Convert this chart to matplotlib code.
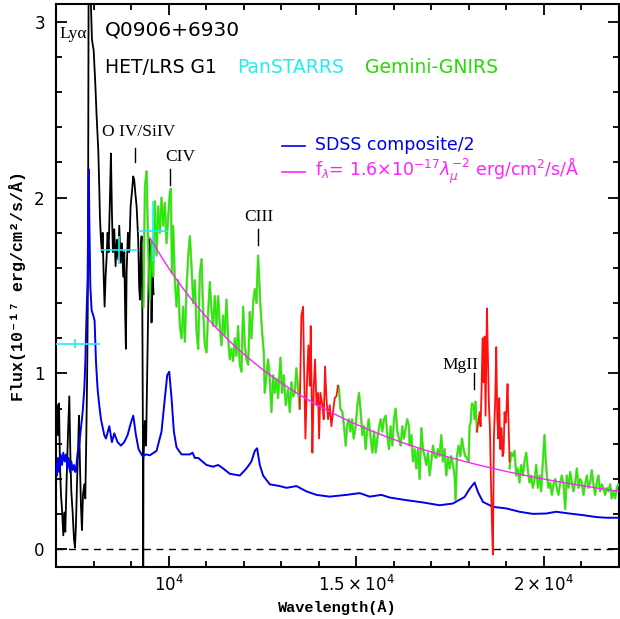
import matplotlib
matplotlib.use("Agg")
import matplotlib.pyplot as plt
import numpy as np
from matplotlib.ticker import FixedLocator, MultipleLocator

# HET/LRS G1 spectrum (Angstrom, 1e-17 erg/cm2/s/A)
black_wave = [7027, 7053, 7080, 7106, 7133, 7160, 7195, 7222, 7248, 7284, 7319, 7355, 7382, 7408,
              7444, 7479, 7506, 7532, 7559, 7586, 7612, 7639, 7665, 7692, 7719, 7754, 7781, 7807,
              7834, 7852, 7870, 7896, 7923, 7958, 7985, 8003, 8047, 8083, 8127, 8153, 8171, 8198,
              8224, 8242, 8269, 8295, 8322, 8349, 8375, 8402, 8437, 8464, 8491, 8517, 8553, 8588,
              8624, 8659, 8686, 8721, 8757, 8792, 8819, 8846, 8863, 8881, 8917, 8952, 8988, 9023,
              9058, 9085, 9112, 9148, 9191, 9215, 9236, 9262, 9281, 9300, 9318, 9324, 9330, 9369,
              9400, 9431, 9458, 9484, 9520, 9546, 9573, 9600]
black_flux = [0.82, 0.65, 0.83, 0.48, 0.31, 0.23, 0.08, 0.21, 0.10, 0.40, 0.65, 0.87, 0.55, 0.33,
              0.21, 0.06, 0.01, 0.14, 0.37, 0.55, 0.76, 0.48, 0.25, 0.11, 0.31, 0.37, 0.29, 0.63,
              1.06, 1.54, 3.30, 3.50, 3.15, 2.90, 2.86, 2.84, 2.65, 2.46, 2.27, 2.06, 1.89, 1.76,
              1.69, 1.80, 1.57, 1.38, 1.55, 1.66, 1.80, 1.69, 1.99, 2.25, 1.91, 1.69, 1.82, 1.61,
              1.76, 1.65, 1.84, 1.63, 1.74, 1.55, 1.69, 1.31, 1.14, 1.57, 1.80, 1.69, 1.95, 2.03,
              2.12, 2.10, 2.03, 1.95, 1.76, 1.50, 1.42, 1.72, 1.78, 1.38, 0.57, -0.60, 0.50, 0.73,
              0.59, 1.01, 1.38, 1.76, 1.70, 1.29, 1.57, 1.45]

# SDSS composite / 2
blue_wave = [7000, 7027, 7053, 7089, 7124, 7160, 7195, 7231, 7266, 7302, 7337, 7373, 7408, 7444,
             7479, 7515, 7532, 7577, 7621, 7665, 7710, 7754, 7781, 7816, 7843, 7861, 7874, 7887,
             7914, 7949, 7994, 8029, 8065, 8109, 8153, 8198, 8287, 8331, 8420, 8491, 8553, 8641,
             8730, 8819, 8908, 8996, 9059, 9130, 9200, 9307, 9400, 9502, 9679, 9812, 9901, 9963,
             10017, 10079, 10141, 10212, 10345, 10567, 10638, 10700, 10789, 11010, 11188, 11321,
             11454, 11631, 11898, 12075, 12208, 12297, 12359, 12430, 12519, 12696, 12962, 13140,
             13407, 13673, 13939, 14294, 14738, 15093, 15359, 15669, 15891, 16335, 16778, 17222,
             17577, 17887, 18021, 18154, 18242, 18376, 18642, 18997, 19352, 19706, 20062, 20327,
             20682, 21037, 21392, 21659, 21969, 22000]
blue_flux = [0.48, 0.42, 0.52, 0.44, 0.54, 0.48, 0.55, 0.50, 0.54, 0.46, 0.52, 0.44, 0.50, 0.45,
             0.48, 0.44, 0.45, 0.55, 0.60, 0.69, 0.78, 0.91, 1.06, 1.35, 1.54, 1.95, 2.16, 1.90,
             1.50, 1.36, 1.33, 1.30, 1.07, 0.91, 0.82, 0.74, 0.65, 0.63, 0.70, 0.61, 0.66, 0.61,
             0.59, 0.61, 0.65, 0.72, 0.76, 0.65, 0.57, 0.53, 0.54, 0.535, 0.56, 0.67, 0.86, 0.99,
             1.01, 0.86, 0.67, 0.58, 0.54, 0.54, 0.55, 0.52, 0.52, 0.48, 0.47, 0.48,
             0.46, 0.43, 0.42, 0.46, 0.50, 0.56, 0.575, 0.48, 0.42, 0.37, 0.36, 0.35,
             0.36, 0.33, 0.31, 0.30, 0.31, 0.32, 0.30, 0.31, 0.295, 0.28, 0.267, 0.251,
             0.261, 0.298, 0.344, 0.38, 0.327, 0.27, 0.242, 0.233, 0.214, 0.202, 0.204, 0.214,
             0.204, 0.195, 0.184, 0.18, 0.18, 0.178]

# Gemini-GNIRS, good parts (green) and telluric parts (red)
green1_wave = [9330, 9369, 9414, 9458, 9502, 9546, 9590, 9635, 9679, 9723, 9768, 9812, 9856, 9901,
               9945, 9990, 10034, 10061, 10090, 10123, 10167, 10211, 10256, 10300, 10345, 10389,
               10434, 10478, 10523, 10567, 10611, 10656, 10700, 10745, 10789, 10833, 10878, 10922,
               10966, 11011, 11055, 11099, 11143, 11188, 11232, 11276, 11321, 11365, 11409, 11454,
               11498, 11543, 11587, 11631, 11676, 11720, 11764, 11809, 11853, 11898, 11942, 11986,
               12031, 12075, 12120, 12164, 12208, 12253, 12297, 12341, 12385, 12448, 12501, 12537,
               12563, 12608, 12652, 12696, 12741, 12785, 12829, 12874, 12918, 12980, 13025, 13069,
               13122, 13184, 13229, 13273, 13317, 13362, 13406, 13451, 13495]
green1_flux = [1.38, 2.06, 2.15, 1.70, 1.42, 1.75, 1.55, 1.98, 1.67, 1.95, 1.80, 2.00, 1.84, 1.97,
               1.74, 1.89, 2.03, 2.05, 1.57, 1.84, 1.53, 1.38, 1.53, 1.27, 1.20, 1.38,
               1.18, 1.48, 1.67, 1.78, 1.61, 1.40, 1.53, 1.24, 1.14, 1.57, 1.65, 1.35,
               1.16, 1.12, 1.35, 1.52, 1.36, 1.27, 1.44, 1.27, 1.44, 1.27, 1.16, 1.33,
               1.22, 1.42, 1.20, 1.08, 1.14, 1.07, 1.20, 1.10, 1.27, 1.05, 1.01, 1.38,
               1.16, 1.08, 1.05, 1.35, 1.20, 1.40, 1.48, 1.40, 1.67, 1.38, 1.21, 1.12,
               0.89, 0.99, 1.08, 0.97, 0.78, 0.99, 0.89, 0.97, 0.86, 1.09, 0.89, 0.99,
               0.82, 0.91, 0.78, 0.95, 0.87, 0.89, 1.03, 0.91, 0.80]
red1_wave = [13495, 13539, 13584, 13610, 13646, 13690, 13726, 13761, 13788, 13814, 13832, 13868,
             13903, 13939, 13983, 14010, 14045, 14098, 14134, 14169, 14205, 14249, 14294, 14338,
             14382, 14427, 14471, 14515]
red1_flux = [0.80, 1.33, 1.38, 1.03, 0.63, 0.97, 1.16, 0.93, 1.27, 0.84, 0.55, 0.93,
             1.08, 0.82, 0.89, 0.63, 0.89, 0.82, 0.74, 1.04, 0.86, 0.74, 0.82, 0.70,
             0.78, 0.86, 0.87, 0.93]
green2_wave = [14515, 14542, 14577, 14631, 14675, 14719, 14755, 14799, 14844, 14888, 14932, 14986,
               15030, 15074, 15119, 15163, 15207, 15252, 15287, 15332, 15376, 15429, 15474, 15518,
               15562, 15607, 15651, 15695, 15740, 15784, 15829, 15873, 15917, 15962, 16006, 16050,
               16095, 16139, 16184, 16228, 16272, 16317, 16361, 16405, 16423, 16468, 16512, 16556,
               16601, 16645, 16689, 16734, 16778, 16822, 16867, 16911, 16956, 17000, 17044, 17089,
               17133, 17177, 17222, 17266, 17310, 17355, 17399, 17444, 17488, 17532, 17577, 17621,
               17648, 17683, 17727, 17772, 17816, 17861, 17905, 17949, 17994, 18020, 18047, 18082,
               18127, 18153, 18180, 18216]
green2_flux = [0.93, 0.91, 0.80, 0.78, 0.70, 0.59, 0.70, 0.74, 0.67, 0.74, 0.63, 0.70,
               0.82, 0.89, 0.78, 0.65, 0.70, 0.57, 0.67, 0.74, 0.65, 0.55, 0.67, 0.55,
               0.63, 0.69, 0.74, 0.67, 0.74, 0.76, 0.65, 0.57, 0.70, 0.59, 0.74, 0.80,
               0.67, 0.63, 0.59, 0.70, 0.63, 0.69, 0.74, 0.70, 0.59, 0.65, 0.50, 0.57,
               0.46, 0.57, 0.40, 0.69, 0.57, 0.53, 0.48, 0.55, 0.42, 0.50, 0.59, 0.53,
               0.52, 0.57, 0.53, 0.65, 0.50, 0.57, 0.42, 0.52, 0.46, 0.53, 0.48, 0.42,
               0.28, 0.53, 0.59, 0.53, 0.63, 0.57, 0.53, 0.52, 0.50, 0.70, 0.72, 0.83,
               0.82, 0.74, 0.84, 0.67]
red2_wave = [18216, 18251, 18287, 18313, 18340, 18366, 18393, 18420, 18446, 18482, 18508, 18535,
             18562, 18588, 18615, 18641, 18668, 18704, 18730, 18757, 18784, 18810, 18837, 18872,
             18899, 18926, 18952, 18979, 19005, 19032, 19058, 19085]
red2_flux = [0.67, 0.72, 0.78, 0.70, 0.91, 1.20, 0.95, 1.21, 0.76, 1.37, 1.10, 0.82,
             0.69, 0.40, 0.16, -0.03, 0.63, 0.86, 1.15, 0.76, 0.63, 0.86, 0.57, 0.69,
             0.53, 0.55, 0.78, 0.72, 0.80, 0.94, 0.72, 0.50]
green3_wave = [19085, 19130, 19174, 19218, 19263, 19307, 19351, 19396, 19440, 19484, 19529, 19573,
               19617, 19662, 19706, 19751, 19795, 19839, 19884, 19928, 19972, 20017, 20043, 20079,
               20123, 20168, 20212, 20256, 20301, 20345, 20390, 20434, 20478, 20523, 20567, 20611,
               20656, 20700, 20744, 20789, 20833, 20877, 20922, 20966, 21011, 21055, 21099, 21144,
               21188, 21232, 21277, 21321, 21365, 21410, 21454, 21498, 21543, 21587, 21632, 21676,
               21720, 21765, 21809, 21853, 21898, 21942, 21987]
green3_flux = [0.46, 0.55, 0.53, 0.56, 0.42, 0.46, 0.38, 0.48, 0.42, 0.50, 0.55, 0.45,
               0.38, 0.42, 0.35, 0.40, 0.48, 0.35, 0.42, 0.33, 0.50, 0.65, 0.53, 0.42,
               0.35, 0.38, 0.31, 0.37, 0.40, 0.35, 0.31, 0.38, 0.42, 0.37, 0.23, 0.42,
               0.35, 0.44, 0.38, 0.33, 0.38, 0.46, 0.35, 0.40, 0.38, 0.31, 0.37, 0.42,
               0.35, 0.38, 0.45, 0.37, 0.31, 0.38, 0.42, 0.33, 0.37, 0.35, 0.31, 0.35,
               0.33, 0.37, 0.29, 0.33, 0.29, 0.35, 0.37]

# PanSTARRS photometry: centre, filter half width, flux, error
ps_wave = [7514, 8680, 9590]
ps_halfwidth = [660, 500, 400]
ps_flux = [1.17, 1.70, 1.81]
ps_err = [0.025, 0.08, 0.17]

# power-law model f = A * lambda_um^-2
pl_amp = 1.6
pl_start, pl_end = 9500, 22000

# emission line labels: text, x, y, tick x, tick y0, tick y1
line_labels = ["Ly\u03b1", "O IV/SiIV", "CIV", "CIII", "MgII"]
label_x = [7080, 8225, 9902, 12005, 17302]
label_y = [2.93, 2.37, 2.23, 1.89, 1.05]
tick_x = [None, 9103, 10035, 12377, 18127]
tick_y0 = [None, 2.20, 2.07, 1.73, 0.91]
tick_y1 = [None, 2.28, 2.16, 1.82, 1.00]

xticks = [10000, 15000, 20000]
xtick_labels = [r"$10^4$", r"$1.5\times10^4$", r"$2\times10^4$"]


def main() -> None:
    fig = plt.figure(figsize=(6.2, 6.19), dpi=100)
    ax = fig.add_axes([0.0903, 0.084, 0.908, 0.9095])

    ax.axhline(0, color="black", lw=1.0, ls=(0, (5, 4)), zorder=1)

    ax.plot(black_wave, black_flux, color="black", lw=1.3, zorder=2)
    ax.plot(blue_wave, blue_flux, color="#0000ee", lw=1.4, zorder=3)

    for w, f in [(green1_wave, green1_flux), (green2_wave, green2_flux), (green3_wave, green3_flux)]:
        ax.plot(w, f, color="#7f9f40", lw=1.8, alpha=0.6, zorder=4)
        ax.plot(w, f, color="#1eee00", lw=1.1, zorder=5)
    for w, f in [(red1_wave, red1_flux), (red2_wave, red2_flux)]:
        ax.plot(w, f, color="#ff1010", lw=1.3, zorder=5)

    ax.errorbar(ps_wave, ps_flux, xerr=ps_halfwidth, yerr=ps_err, fmt="none",
                ecolor="#22eeee", elinewidth=1.2, capsize=0, zorder=6)

    pl_wave = np.linspace(pl_start, pl_end, 300)
    ax.plot(pl_wave, pl_amp * (pl_wave / 1e4) ** -2, color="#ff22ff", lw=1.0, zorder=7)

    # legend drawn by hand like the original
    ax.plot([13016, 13628], [2.295, 2.295], color="#0000ee", lw=1.2)
    ax.plot([13016, 13628], [2.143, 2.143], color="#ff22ff", lw=1.2)
    ax.text(13900, 2.30, "SDSS composite/2", color="#0000ee", fontsize=12.5, va="center")
    ax.text(13900, 2.15, r"f$_\lambda$= 1.6$\times$10$^{-17}$$\lambda_\mu^{-2}$ erg/cm$^2$/s/Å",
            color="#ff22ff", fontsize=12.5, va="center")

    ax.text(8300, 2.955, "Q0906+6930", fontsize=14.5, va="center")
    ax.text(8300, 2.74, "HET/LRS G1", fontsize=13.5, va="center")
    ax.text(11818, 2.74, "PanSTARRS", fontsize=13.5, va="center", color="#22eeee")
    ax.text(15226, 2.74, "Gemini-GNIRS", fontsize=13.5, va="center", color="#22dd00")

    for i, txt in enumerate(line_labels):
        ax.text(label_x[i], label_y[i], txt, fontsize=12.5, va="center",
                family=["Liberation Serif", "DejaVu Serif"])
        if tick_x[i] is not None:
            ax.plot([tick_x[i], tick_x[i]], [tick_y0[i], tick_y1[i]], color="black", lw=1.0)

    ax.set_xlim(7000, 22000)
    ax.set_ylim(-0.1, 3.1)
    ax.xaxis.set_major_locator(FixedLocator(xticks))
    ax.set_xticklabels(xtick_labels)
    ax.xaxis.set_minor_locator(MultipleLocator(1000))
    ax.yaxis.set_major_locator(MultipleLocator(1))
    ax.yaxis.set_minor_locator(MultipleLocator(0.2))
    ax.tick_params(which="both", direction="in", top=True, right=True, width=1.3)
    ax.tick_params(which="major", length=8, labelsize=12)
    ax.tick_params(which="minor", length=4)
    ax.tick_params(axis="y", pad=8)
    ax.tick_params(axis="x", pad=6)
    for s in ax.spines.values():
        s.set_linewidth(1.5)

    mono = ["Liberation Mono", "DejaVu Sans Mono"]
    ax.set_xlabel("Wavelength(Å)", labelpad=3, fontsize=11, family=mono, weight="bold")
    ax.set_ylabel("Flux(10⁻¹⁷ erg/cm²/s/Å)", labelpad=6, fontsize=12, family=mono, weight="bold")

    fig.savefig("out.png", dpi=100)
    plt.close(fig)


if __name__ == "__main__":
    main()
